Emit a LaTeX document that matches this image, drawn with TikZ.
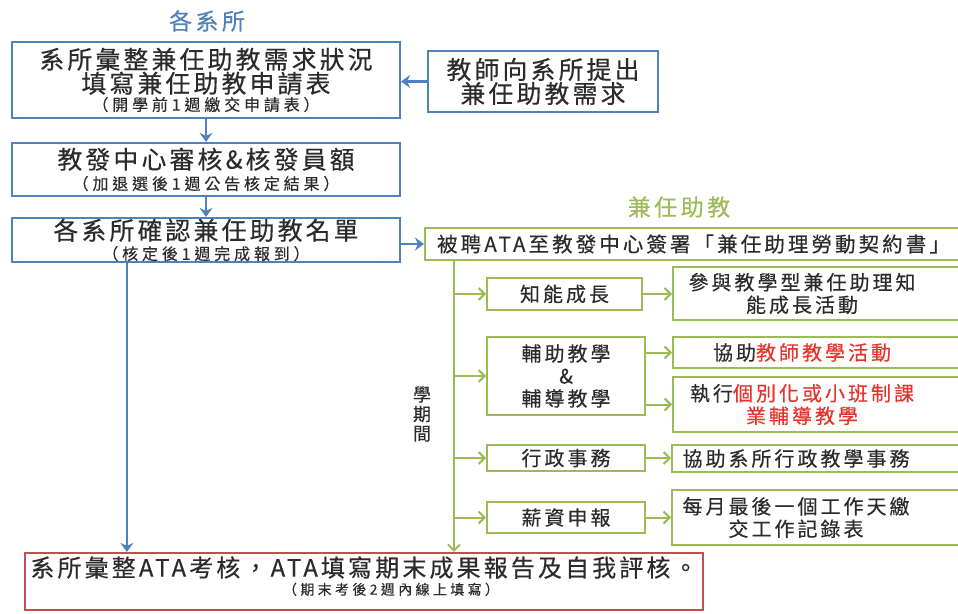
\documentclass[tikz,border=0pt]{standalone}
\usepackage{fontspec}
\usetikzlibrary{arrows.meta}
\newfontfamily\tcA[LetterSpace=13,FakeBold=0.4]{Noto Sans CJK TC}
\newfontfamily\tcM[LetterSpace=15,FakeBold=0.35]{Noto Sans CJK TC}
\newfontfamily\tcS[LetterSpace=24,FakeBold=0.3]{Noto Sans CJK TC}
\definecolor{oblue}{HTML}{4F81BD}
\definecolor{ogreen}{HTML}{9BBB59}
\definecolor{ored}{HTML}{C0504D}
\definecolor{rtxt}{HTML}{E8322E}
\definecolor{txt}{HTML}{2B2B2B}
\newcommand{\fBig}{\tcA\fontsize{24.8}{24}\selectfont}
\newcommand{\fMed}{\tcM\fontsize{20}{22.5}\selectfont}
\newcommand{\fSm}{\tcS\fontsize{16}{20}\selectfont}
\newcommand{\fTitle}{\tcM\fontsize{23}{24}\selectfont}
\tikzset{
  bbox/.style={draw=oblue, line width=2.2pt, fill=white, text=txt, font=\fBig, align=center, inner sep=0pt},
  gbox/.style={draw=ogreen, line width=2pt, fill=white, text=txt, font=\fMed, align=center, inner sep=0pt},
  redbox/.style={draw=ored, line width=2.2pt, fill=white, text=txt, font=\fBig, align=center, inner sep=0pt},
  gtext/.style={text=txt, font=\fMed, align=center, inner sep=0pt},
  barrow/.style={draw=oblue, line width=2.2pt, -{Stealth[length=9pt,width=13pt,inset=3pt]}},
  garrow/.style={draw=ogreen, line width=2pt, -{Straight Barb[length=6pt,width=12pt]}},
}
\begin{document}
\begin{tikzpicture}[x=1pt,y=-1pt]
\fill[white] (0,0) rectangle (958,613);
\useasboundingbox (0,0) rectangle (958,613);

% titles
\node[font=\fTitle, text=oblue, inner sep=0pt] (t1) at (207,21) {各系所};
\node[font=\fTitle, text=ogreen, inner sep=0pt] (t2) at (679,207) {兼任助教};

% left column
\node[bbox, minimum width=388pt, minimum height=76pt] (b1) at (206,80)
  {系所彙整兼任助教需求狀況\\填寫兼任助教申請表\\[-6pt]{\fSm （開學前1週繳交申請表）}};
\node[bbox, minimum width=230pt, minimum height=61pt] (tch) at (543,81.5)
  {教師向系所提出\\兼任助教需求};
\node[bbox, minimum width=388pt, minimum height=53pt] (b2) at (206,169.5)
  {教發中心審核\&核發員額\\[-3pt]{\fSm （加退選後1週公告核定結果）}};
\node[bbox, minimum width=388pt, minimum height=44pt] (b3) at (206,240)
  {各系所確認兼任助教名單\\[-4pt]{\fSm （核定後1週完成報到）}};

% ATA contract box
\node[gbox, font=\tcM\fontsize{20.5}{22}\selectfont, minimum width=537pt, minimum height=32pt] (ata) at (693.5,244)
  {被聘ATA至教發中心簽署「兼任助理勞動契約書」};

% middle green boxes
\node[gbox, minimum width=155pt, minimum height=32pt] (k1) at (564.5,294) {知能成長};
\node[gbox, minimum width=158pt, minimum height=78pt] (f1) at (566,376) {輔助教學\\\&\\輔導教學};
\node[gbox, minimum width=158pt, minimum height=26pt] (a1) at (566,458) {行政事務};
\node[gbox, minimum width=158pt, minimum height=31pt] (s1) at (566,517.5) {薪資申報};

% right green boxes (cut by the right edge)
\node[gbox, minimum width=289pt, minimum height=53pt] (r1) at (817.5,293.5) {};
\node[gtext] (r1t) at (802,293.5) {參與教學型兼任助理知\\能成長活動};
\node[gbox, minimum width=289pt, minimum height=31pt] (r2) at (817.5,352.5) {};
\node[gtext] (r2t) at (802,352.5) {協助\textcolor{rtxt}{教師教學活動}};
\node[gbox, minimum width=289pt, minimum height=55pt] (r3) at (817.5,404.5) {};
\node[gtext] (r3t) at (802,404.5) {執行\textcolor{rtxt}{個別化或小班制課}\\\textcolor{rtxt}{業輔導教學}};
\node[gbox, minimum width=290pt, minimum height=27pt] (r4) at (817,458.5) {};
\node[gtext] (r4t) at (796,458.5) {協助系所行政教學事務};
\node[gbox, minimum width=290pt, minimum height=55pt] (r5) at (817,517.5) {};
\node[gtext] (r5t) at (796,517.5) {每月最後一個工作天繳\\交工作記錄表};

% semester label
\node[text=txt, font=\tcM\fontsize{18}{19.5}\selectfont, align=center, inner sep=0pt] (sem) at (422,414) {學\\期\\間};

% final box
\node[redbox, font=\tcA\fontsize{24}{24}\selectfont, minimum width=678pt, minimum height=57pt, text depth=12pt] (fin) at (364,581.5)
  {系所彙整ATA考核，ATA填寫期末成果報告及自我評核。\\[-6pt]\hspace*{54pt}{\tcS\fontsize{14}{18}\selectfont （期末考後2週內線上填寫）}};

% blue connectors
\draw[barrow] (tch.west) -- (tch.west -| b1.east);
\draw[barrow] (b1.south) -- (b2.north);
\draw[barrow] (b2.south) -- (b3.north);
\draw[barrow] (b3.east |- ata.west) -- (ata.west);
\coordinate (bx) at ([xshift=116pt]b3.south west);
\draw[barrow] (bx) -- (bx |- fin.north);

% green connectors
\coordinate (vx) at ([xshift=30pt]ata.south west);
\draw[garrow] (vx) -- (vx |- fin.north);
\draw[garrow] (vx |- k1.west) -- (k1.west);
\draw[garrow] (vx |- f1.west) -- (f1.west);
\draw[garrow] (vx |- a1.west) -- (a1.west);
\draw[garrow] (vx |- s1.west) -- (s1.west);
\draw[garrow] (k1.east) -- (k1.east -| r1.west);
\draw[garrow] (f1.east |- r2.west) -- (r2.west);
\draw[garrow] (f1.east |- r3.west) -- (r3.west);
\draw[garrow] (a1.east) -- (a1.east -| r4.west);
\draw[garrow] (s1.east) -- (s1.east -| r5.west);
\end{tikzpicture}
\end{document}
